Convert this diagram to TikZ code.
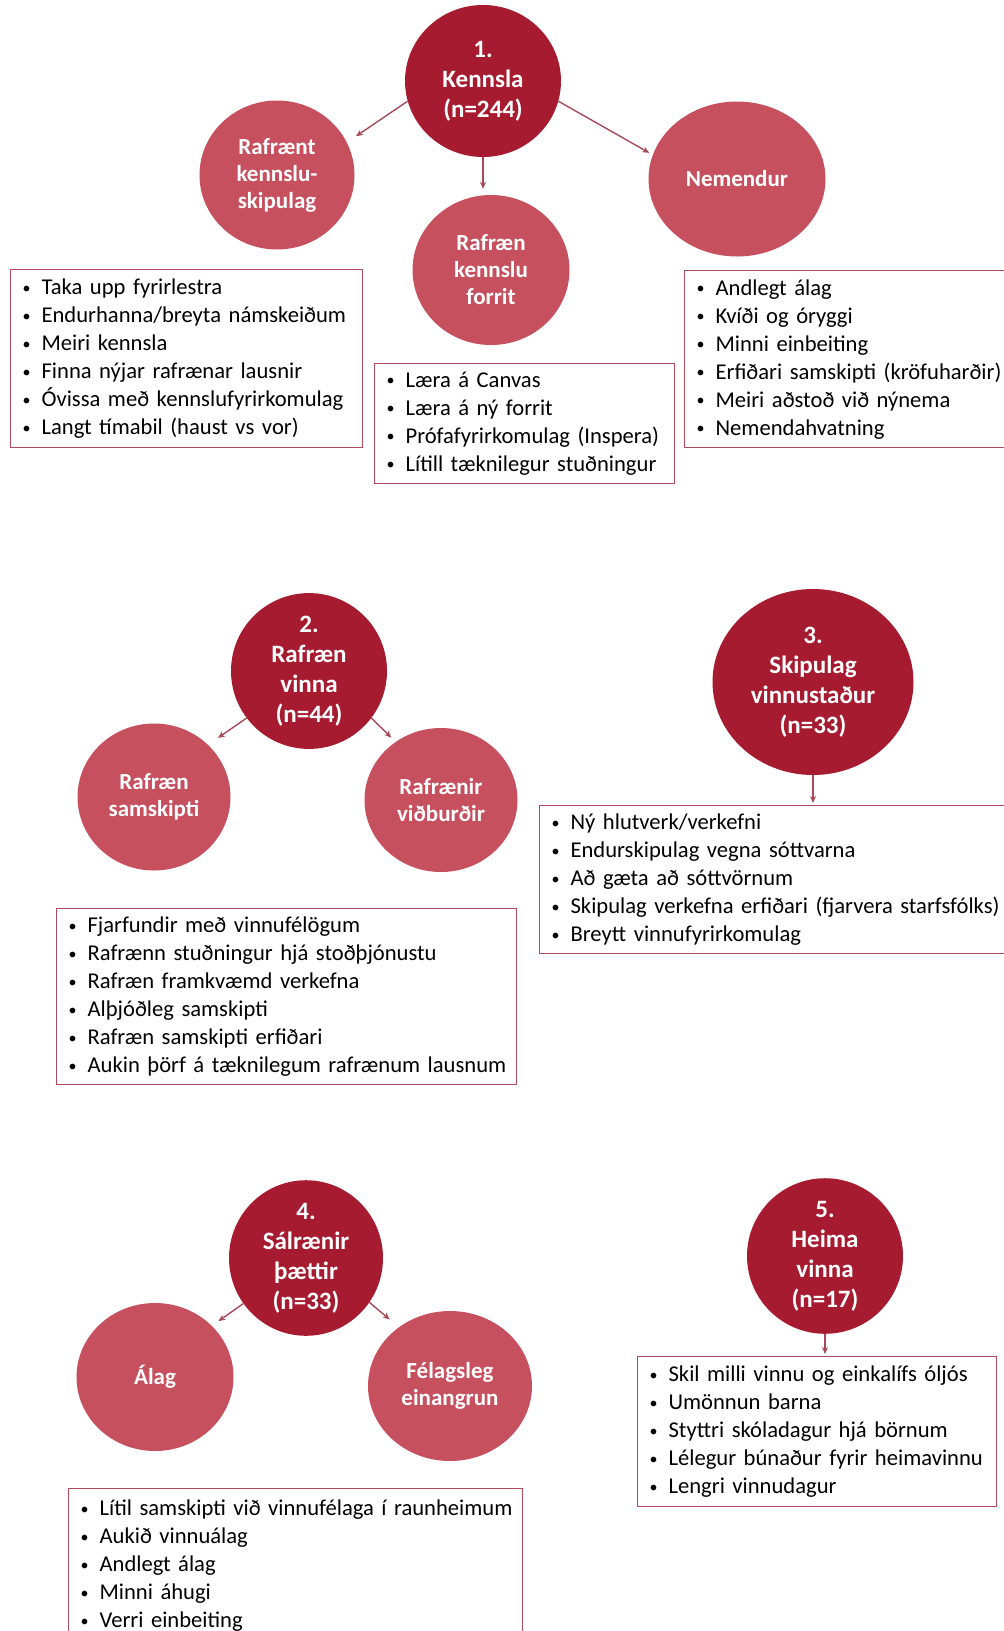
\documentclass[tikz,border=0pt]{standalone}
\usepackage{fontspec}
\setmainfont{Carlito}
\usetikzlibrary{shapes.geometric,arrows.meta}
\definecolor{topicred}{RGB}{166,27,48}
\definecolor{subred}{RGB}{199,80,95}
\definecolor{boxred}{RGB}{176,74,92}
\definecolor{arrowred}{RGB}{168,72,88}
\newcommand{\bul}[1]{\mbox{\makebox[19pt][l]{\raisebox{1.5pt}{\fontsize{16}{16}\selectfont\textbullet}}#1}}

\begin{document}
\begin{tikzpicture}[x=1pt,y=-1pt,
	topic/.style={ellipse,fill=topicred,text=white,inner sep=0pt,align=center,
		font=\fontsize{25}{30}\selectfont\bfseries},
	sub/.style={ellipse,fill=subred,text=white,inner sep=0pt,align=center,
		font=\fontsize{23}{27}\selectfont\bfseries},
	listbox/.style={draw=boxred,line width=1.2pt,anchor=north west,align=left,
		inner xsep=12pt,inner ysep=0pt,font=\fontsize{22.6}{28}\selectfont},
	arr/.style={draw=arrowred,line width=1.4pt,-{Stealth[length=7pt,width=6pt]}}
	]
	\useasboundingbox (0,0) rectangle (1004,1631);
	\clip (0,0) rectangle (1004,1631);
	% 1. Kennsla
	\node[topic,minimum width=156pt,minimum height=152pt] (kennsla) at (483,81) {1.\\Kennsla\\(n=244)};
	\node[sub,minimum width=155pt,minimum height=149pt] (skipulagRafr) at (277,175) {Rafrænt\\kennslu-\\skipulag};
	\node[sub,minimum width=157pt,minimum height=150pt] (forrit) at (491,270) {Rafræn\\kennslu\\forrit};
	\node[sub,minimum width=177pt,minimum height=155pt] (nemendur) at (737,179) {Nemendur};
	\draw[arr,shorten >=11pt] (kennsla.195) -- (skipulagRafr.25);
	\draw[arr,shorten >=6pt] (kennsla.south) -- (kennsla.south |- forrit.north);
	\draw[arr,shorten >=4pt] (kennsla.345) -- (nemendur.164);
	\node[listbox,text width=328pt,minimum height=178pt] (listSkipulag) at (10,269) {%
		\bul{Taka upp fyrirlestra}\\
		\bul{Endurhanna/breyta námskeiðum}\\
		\bul{Meiri kennsla}\\
		\bul{Finna nýjar rafrænar lausnir}\\
		\bul{Óvissa með kennslufyrirkomulag}\\
		\bul{Langt tímabil (haust vs vor)}};
	\node[listbox,text width=276pt,minimum height=120pt] (listForrit) at (374,363) {%
		\bul{Læra á Canvas}\\
		\bul{Læra á ný forrit}\\
		\bul{Prófafyrirkomulag (Inspera)}\\
		\bul{Lítill tæknilegur stuðningur}};
	\node[listbox,text width=302pt,minimum height=177pt] (listNemendur) at (684,270) {%
		\bul{Andlegt álag}\\
		\bul{Kvíði og óryggi}\\
		\bul{Minni einbeiting}\\
		\bul{Erfiðari samskipti (kröfuharðir)}\\
		\bul{Meiri aðstoð við nýnema}\\
		\bul{Nemendahvatning}};
	% 2. Rafræn vinna
	\node[topic,minimum width=156pt,minimum height=152pt] (vinna) at (309,671) {2.\\Rafræn\\vinna\\(n=44)};
	\node[sub,minimum width=153pt,minimum height=147pt] (samskipti) at (154,797) {Rafræn\\samskipti};
	\node[sub,minimum width=153pt,minimum height=144pt] (vidburdir) at (441,800) {Rafrænir\\viðburðir};
	\draw[arr,shorten >=12pt] (vinna.217) -- (samskipti.44);
	\draw[arr,shorten >=6pt] (vinna.323) -- (vidburdir.128);
	\node[listbox,text width=436pt,minimum height=176pt] (listVinna) at (56,908) {%
		\bul{Fjarfundir með vinnufélögum}\\
		\bul{Rafrænn stuðningur hjá stoðþjónustu}\\
		\bul{Rafræn framkvæmd verkefna}\\
		\bul{Alþjóðleg samskipti}\\
		\bul{Rafræn samskipti erfiðari}\\
		\bul{Aukin þörf á tæknilegum rafrænum lausnum}};
	% 3. Skipulag vinnustaður
	\node[topic,minimum width=201pt,minimum height=186pt] (vinnustadur) at (813,682) {3.\\Skipulag\\vinnustaður\\(n=33)};
	\node[listbox,text width=447pt,minimum height=148pt] (listVinnustadur) at (539,805) {%
		\bul{Ný hlutverk/verkefni}\\
		\bul{Endurskipulag vegna sóttvarna}\\
		\bul{Að gæta að sóttvörnum}\\
		\bul{Skipulag verkefna erfiðari (fjarvera starfsfólks)}\\
		\bul{Breytt vinnufyrirkomulag}};
	\draw[arr,shorten >=2pt] (vinnustadur.south) -- (vinnustadur.south |- listVinnustadur.north);
	% 4. Sálrænir þættir
	\node[sub,minimum width=157pt,minimum height=148pt] (alag) at (155,1377) {Álag};
	\node[topic,minimum width=154pt,minimum height=151pt] (salraenir) at (306,1258) {4.\\Sálrænir\\þættir\\(n=33)};
	\node[sub,minimum width=164pt,minimum height=150pt] (einangrun) at (450,1386) {Félagsleg\\einangrun};
	\draw[arr,shorten >=8pt] (salraenir.216) -- (alag.42);
	\draw[arr,shorten >=12pt] (salraenir.325) -- (einangrun.131);
	\node[listbox,text width=430pt,minimum height=154pt] (listSalraenir) at (68,1488) {%
		\bul{Lítil samskipti við vinnufélaga í raunheimum}\\
		\bul{Aukið vinnuálag}\\
		\bul{Andlegt álag}\\
		\bul{Minni áhugi}\\
		\bul{Verri einbeiting}};
	% 5. Heima vinna
	\node[topic,minimum width=156pt,minimum height=155pt] (heima) at (825,1256) {5.\\Heima\\vinna\\(n=17)};
	\node[listbox,text width=335pt,minimum height=150pt] (listHeima) at (637,1356) {%
		\bul{Skil milli vinnu og einkalífs óljós}\\
		\bul{Umönnun barna}\\
		\bul{Styttri skóladagur hjá börnum}\\
		\bul{Lélegur búnaður fyrir heimavinnu}\\
		\bul{Lengri vinnudagur}};
	\draw[arr,shorten >=2pt] (heima.south) -- (heima.south |- listHeima.north);
\end{tikzpicture}
\end{document}
